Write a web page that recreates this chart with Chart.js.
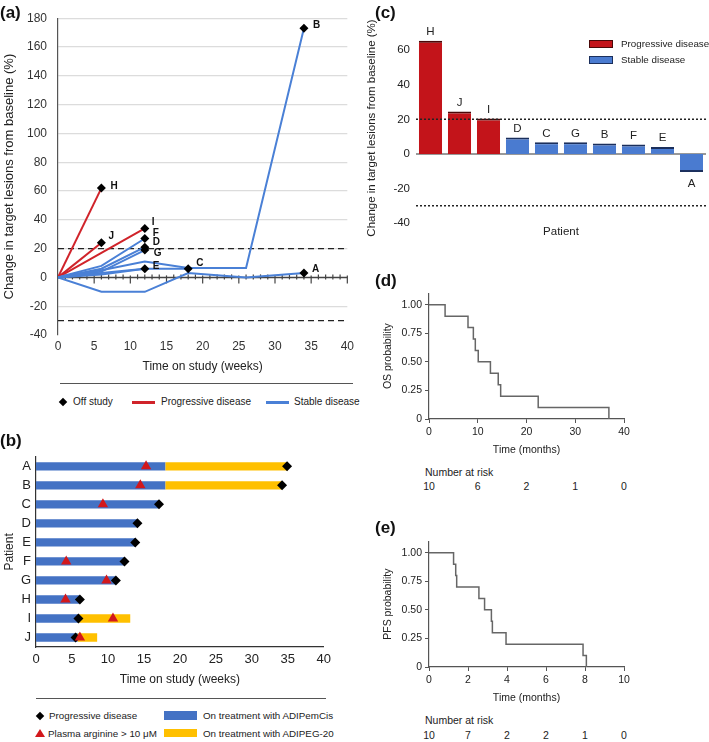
<!DOCTYPE html>
<html>
<head>
<meta charset="utf-8">
<script src="https://cdn.jsdelivr.net/npm/chart.js@4.4.0/dist/chart.umd.min.js"></script>
<style>
  body { margin: 0; width: 709px; height: 742px; position: relative; overflow: hidden; background: #fff;
         font-family: 'Liberation Sans', Arial, Helvetica, sans-serif; color: #222; }
  canvas { position: absolute; }
  .t { position: absolute; white-space: nowrap; transform: translateY(-50%); line-height: 1; color: #222; }
  .tag { position: absolute; font-weight: bold; font-size: 17px; line-height: 1; transform: translateY(-50%); color: #111; }
  .rule { position: absolute; height: 1px; background: #555; }
  .sw { position: absolute; }
  .dia { position: absolute; width: 6px; height: 6px; background: #000; transform: translate(-50%, -50%) rotate(45deg); }
  .tri { position: absolute; width: 0; height: 0; border-left: 5px solid transparent; border-right: 5px solid transparent;
         border-bottom: 8px solid #d2181c; transform: translate(-50%, -50%); }
</style>
</head>
<body>
<script>
// ---- (a) spider plot: weeks on study and % change per patient
const spiderNames = ['A', 'B', 'C', 'D', 'E', 'F', 'G', 'H', 'I', 'J'];
const spiderStatus = ['SD', 'SD', 'SD', 'SD', 'SD', 'SD', 'SD', 'PD', 'PD', 'PD'];
const weeksA = [0, 6, 12, 18, 26, 34],  changeA = [0, -10, -10, 3, 0, 3];
const weeksB = [0, 6, 12, 18, 26, 34],  changeB = [0, 5, 11, 6.5, 6.5, 173];
const weeksC = [0, 6, 12, 18],          changeC = [0, 3, 6, 6];
const weeksD = [0, 6, 12],              changeD = [0, 6, 21];
const weeksE = [0, 6, 12],              changeE = [0, 2, 6];
const weeksF = [0, 6, 12],              changeF = [0, 8, 27];
const weeksG = [0, 6, 12],              changeG = [0, 4, 19];
const weeksH = [0, 6],                  changeH = [0, 62];
const weeksI = [0, 6, 12],              changeI = [0, 17, 34];
const weeksJ = [0, 6],                  changeJ = [0, 24];
const spiderWeeks = [weeksA, weeksB, weeksC, weeksD, weeksE, weeksF, weeksG, weeksH, weeksI, weeksJ];
const spiderChange = [changeA, changeB, changeC, changeD, changeE, changeF, changeG, changeH, changeI, changeJ];
const spiderTicksX = [0, 5, 10, 15, 20, 25, 30, 35, 40];

// ---- (b) swimmer plot
const swimPatients = ['A', 'B', 'C', 'D', 'E', 'F', 'G', 'H', 'I', 'J'];
const pemEnd  = [18, 18, 17, 14.1, 13.8, 12.3, 11, 6, 6, 5.8];
const pegEnd  = [35, 34.1, null, null, null, null, null, null, 13.1, 8.5];
const pdWeek  = [34.9, 34.2, 17.1, 14.1, 13.8, 12.3, 11.1, 6.1, 5.9, 5.5];
const argWeek = [15.3, 14.5, 9.3, null, null, 4.2, 9.8, 4.1, 10.7, 6.1];

// ---- (c) waterfall, best change
const wfPatients = ['H', 'J', 'I', 'D', 'C', 'G', 'B', 'F', 'E', 'A'];
const wfChange = [65.5, 24.5, 20.5, 9.5, 6.8, 6.8, 6, 5.5, 4, -10.5];
const wfStatus = ['PD', 'PD', 'PD', 'SD', 'SD', 'SD', 'SD', 'SD', 'SD', 'SD'];

// ---- (d) OS and (e) PFS Kaplan-Meier
const osTime = [0, 3.3, 8.0, 9.1, 9.5, 10.1, 12.6, 14.2, 14.7, 22.4, 36.9];
const osProb = [1, 0.9, 0.8, 0.7, 0.6, 0.5, 0.4, 0.3, 0.2, 0.1, 0];
const osRiskAt = [0, 10, 20, 30, 40];
const osRisk = [10, 6, 2, 1, 0];
const pfsTime = [0, 1.26, 1.37, 1.42, 2.56, 2.85, 3.2, 3.25, 3.95, 7.9, 8.07];
const pfsProb = [1, 0.9, 0.8, 0.7, 0.6, 0.5, 0.4, 0.3, 0.2, 0.1, 0];
const pfsRiskAt = [0, 2, 4, 6, 8, 10];
const pfsRisk = [10, 7, 2, 2, 1, 0];
const kmTicksY = [0, 0.25, 0.5, 0.75, 1];

const RED = '#d0232a', BLUE = '#4a80d6';
const PEM = '#4472c4', PEG = '#ffc000';
const WF_RED = '#c3141a', WF_BLUE = '#4a7bd0';
const FONT = "'Liberation Sans', Arial, Helvetica, sans-serif";

Chart.defaults.font.family = FONT;
Chart.defaults.color = '#222';
Chart.defaults.animation = false;
Chart.defaults.plugins.legend.display = false;
Chart.defaults.plugins.tooltip.enabled = false;

function makeCanvas(left, top, w, h) {
    var c = document.createElement('canvas');
    c.width = w; c.height = h;
    c.style.left = left + 'px'; c.style.top = top + 'px';
    document.body.appendChild(c);
    return c;
}
function addText(txt, left, cy, size, extra) {
    var s = document.createElement('span');
    s.className = 't';
    s.textContent = txt;
    s.style.left = left + 'px'; s.style.top = cy + 'px'; s.style.fontSize = size + 'px';
    if (extra) s.style.cssText += extra;
    document.body.appendChild(s);
    return s;
}
function addEl(cls, css) {
    var d = document.createElement('div');
    d.className = cls; d.style.cssText = css;
    document.body.appendChild(d);
    return d;
}
function hLine(ctx, area, y, color, width, dash) {
    ctx.save();
    ctx.strokeStyle = color; ctx.lineWidth = width; ctx.setLineDash(dash || []);
    ctx.beginPath(); ctx.moveTo(area.left, y); ctx.lineTo(area.right, y); ctx.stroke();
    ctx.restore();
}

// ================= (a) =================
var labelNudge = { A: [8, -4], B: [9, -3], C: [8, -6], D: [8, -5], E: [8, -3], F: [8, -5], G: [9, 3], H: [9, -2], I: [7, -6], J: [7, -7] };
var spiderSets = spiderNames.map(function (p, i) {
    return {
        label: p, showLine: true, order: 2,
        data: spiderWeeks[i].map(function (w, k) { return { x: w, y: spiderChange[i][k] }; }),
        borderColor: spiderStatus[i] === 'PD' ? RED : BLUE,
        borderWidth: 2, pointRadius: 0
    };
});
spiderSets.push({
    label: 'Off study', order: 0,
    data: spiderNames.map(function (p, i) {
        var n = spiderWeeks[i].length - 1;
        return { x: spiderWeeks[i][n], y: spiderChange[i][n], name: p };
    }),
    pointStyle: 'rectRot', pointRadius: 4.5, backgroundColor: '#000', borderColor: '#000', borderWidth: 0
});

var spiderDecor = {
    id: 'spiderDecor',
    beforeDatasetsDraw: function (chart) {
        var ctx = chart.ctx, a = chart.chartArea, x = chart.scales.x, y = chart.scales.y;
        hLine(ctx, a, y.getPixelForValue(20), '#222', 1.3, [6, 4]);
        hLine(ctx, a, y.getPixelForValue(-30), '#222', 1.3, [6, 4]);
        var y0 = y.getPixelForValue(0);
        hLine(ctx, a, y0, '#444', 1.5);
        ctx.save();
        ctx.strokeStyle = '#444'; ctx.lineWidth = 1.2;
        for (var w = 1; w <= 40; w++) {
            var px = x.getPixelForValue(w);
            ctx.beginPath();
            if (w % 5 === 0) { ctx.moveTo(px, y0 - 2); ctx.lineTo(px, y0 + 6); }
            else { ctx.moveTo(px, y0 - 3); ctx.lineTo(px, y0 + 2); }
            ctx.stroke();
        }
        ctx.restore();
    },
    afterDatasetsDraw: function (chart) {
        var ctx = chart.ctx;
        var meta = chart.getDatasetMeta(chart.data.datasets.length - 1);
        var pts = chart.data.datasets[chart.data.datasets.length - 1].data;
        ctx.save();
        ctx.font = 'bold 10px ' + FONT;
        ctx.fillStyle = '#111';
        ctx.textBaseline = 'middle';
        meta.data.forEach(function (el, i) {
            var nm = pts[i].name, nd = labelNudge[nm];
            ctx.fillText(nm, el.x + nd[0], el.y + nd[1]);
        });
        ctx.restore();
    }
};

new Chart(makeCanvas(0, 0, 358, 374), {
    type: 'scatter',
    data: { datasets: spiderSets },
    options: {
        responsive: false,
        layout: { padding: { left: 1, top: 6, right: 10, bottom: 0 } },
        scales: {
            x: {
                type: 'linear', min: 0, max: 40,
                afterBuildTicks: function (s) { s.ticks = spiderTicksX.map(function (v) { return { value: v }; }); },
                afterFit: function (s) { s.height = 39; },
                grid: { display: false, drawTicks: false }, border: { display: false },
                ticks: { padding: 4, font: { size: 12 }, color: '#333' },
                title: { display: true, text: 'Time on study (weeks)', font: { size: 12 }, padding: 0, color: '#222' }
            },
            y: {
                min: -40, max: 180,
                afterFit: function (s) { s.width = 57; },
                grid: { drawTicks: false, color: function (c) { return (c.tick.value === -40 || c.tick.value === 0) ? 'rgba(0,0,0,0)' : '#dcdcdc'; }, lineWidth: 1.2 },
                border: { display: true, color: '#555', width: 1.2 },
                ticks: { stepSize: 20, padding: 11, font: { size: 12 }, color: '#333' },
                title: { display: true, text: 'Change in target lesions from baseline (%)', font: { size: 13 }, padding: 1, color: '#222' }
            }
        }
    },
    plugins: [spiderDecor]
});

// legend (a)
addEl('rule', 'left:60px;top:383px;width:293px;');
addEl('dia', 'left:63px;top:402px;');
addText('Off study', 73, 402, 10);
addEl('sw', 'left:132px;top:401px;width:23px;height:2.5px;background:' + RED + ';');
addText('Progressive disease', 161, 402, 10);
addEl('sw', 'left:266px;top:401px;width:23px;height:2.5px;background:' + BLUE + ';');
addText('Stable disease', 294, 402, 10);

// ================= (b) =================
var argPoints = [];
swimPatients.forEach(function (p, i) { if (argWeek[i] !== null) argPoints.push({ x: argWeek[i], y: p }); });

new Chart(makeCanvas(0, 444, 336, 243), {
    type: 'bar',
    data: {
        labels: swimPatients,
        datasets: [
            {
                label: 'Plasma arginine > 10 μM', type: 'scatter', order: 0,
                data: argPoints,
                pointStyle: 'triangle', pointRadius: 6, backgroundColor: '#d2181c', borderColor: '#d2181c', borderWidth: 0
            },
            {
                label: 'Progressive disease', type: 'scatter', order: 1,
                data: swimPatients.map(function (p, i) { return { x: pdWeek[i], y: p }; }),
                pointStyle: 'rectRot', pointRadius: 5, backgroundColor: '#000', borderColor: '#000', borderWidth: 0
            },
            {
                label: 'On treatment with ADIPemCis', order: 3,
                data: pemEnd.map(function (v) { return [0, v]; }),
                backgroundColor: PEM, barPercentage: 0.44, categoryPercentage: 1
            },
            {
                label: 'On treatment with ADIPEG-20', order: 2,
                data: pegEnd.map(function (v, i) { return v === null ? null : [pemEnd[i], v]; }),
                backgroundColor: PEG, barPercentage: 0.44, categoryPercentage: 1
            }
        ]
    },
    options: {
        responsive: false,
        indexAxis: 'y',
        layout: { padding: { left: 1, top: 11, right: 10, bottom: 0 } },
        scales: {
            x: {
                type: 'linear', min: 0, max: 40, stacked: false,
                afterFit: function (s) { s.height = 40; },
                grid: { display: false, drawTicks: false }, border: { display: true, color: '#333', width: 1.2 },
                ticks: { stepSize: 5, padding: 5, font: { size: 13 }, color: '#222' },
                title: { display: true, text: 'Time on study (weeks)', font: { size: 12 }, padding: 0 }
            },
            y: {
                type: 'category', labels: swimPatients, offset: true, stacked: true,
                afterFit: function (s) { s.width = 35; },
                grid: { display: false, drawTicks: false }, border: { display: true, color: '#333', width: 1.2 },
                ticks: { padding: 5, font: { size: 13 }, color: '#222' },
                title: { display: true, text: 'Patient', font: { size: 12 }, padding: 1 }
            }
        }
    }
});

// legend (b)
addEl('rule', 'left:36px;top:698px;width:290px;');
addEl('dia', 'left:40px;top:716px;');
addText('Progressive disease', 49, 716, 9.8);
addEl('tri', 'left:39.5px;top:733px;');
addText('Plasma arginine > 10 μM', 48, 733.5, 9.8);
addEl('sw', 'left:164px;top:711px;width:33px;height:8.5px;background:' + PEM + ';');
addText('On treatment with ADIPemCis', 203, 716, 9.8);
addEl('sw', 'left:164px;top:728.5px;width:33px;height:8.5px;background:' + PEG + ';');
addText('On treatment with ADIPEG-20', 203, 733.5, 9.8);

// ================= (c) =================
var wfDecor = {
    id: 'wfDecor',
    beforeDatasetsDraw: function (chart) {
        var ctx = chart.ctx, a = chart.chartArea, y = chart.scales.y;
        hLine(ctx, a, y.getPixelForValue(0), '#777', 1.5);
    },
    afterDatasetsDraw: function (chart) {
        var ctx = chart.ctx, a = chart.chartArea, y = chart.scales.y;
        hLine(ctx, a, y.getPixelForValue(20), '#222', 1.5, [2, 2]);
        hLine(ctx, a, y.getPixelForValue(-30), '#222', 1.5, [2, 2]);
        ctx.save();
        ctx.font = '11.5px ' + FONT;
        ctx.fillStyle = '#222';
        ctx.textAlign = 'center';
        chart.getDatasetMeta(0).data.forEach(function (el, i) {
            if (wfChange[i] >= 0) { ctx.textBaseline = 'bottom'; ctx.fillText(wfPatients[i], el.x, el.y - 3); }
            else { ctx.textBaseline = 'top'; ctx.fillText(wfPatients[i], el.x, el.y + 6); }
        });
        ctx.restore();
    }
};

new Chart(makeCanvas(360, 0, 349, 239), {
    type: 'bar',
    data: {
        labels: wfPatients,
        datasets: [{
            label: 'Best change',
            data: wfChange,
            backgroundColor: wfStatus.map(function (s) { return s === 'PD' ? WF_RED : WF_BLUE; }),
            borderColor: wfStatus.map(function (s) { return s === 'PD' ? '#4a0808' : '#1b2f5c'; }),
            borderWidth: function (c) { return c.raw >= 0 ? { top: 2, left: 0, right: 0, bottom: 0 } : { bottom: 2, left: 0, right: 0, top: 0 }; },
            borderSkipped: false,
            barPercentage: 0.8, categoryPercentage: 1
        }]
    },
    options: {
        responsive: false,
        layout: { padding: { left: 5, top: 33, right: 3, bottom: 0 } },
        scales: {
            x: {
                afterFit: function (s) { s.height = 16; },
                grid: { display: false, drawTicks: false }, border: { display: false },
                ticks: { display: false },
                title: { display: true, text: 'Patient', font: { size: 11.5 }, padding: 0 }
            },
            y: {
                min: -40, max: 70,
                afterBuildTicks: function (s) { s.ticks = s.ticks.filter(function (t) { return t.value % 20 === 0; }); },
                afterFit: function (s) { s.width = 51; },
                grid: { display: false, drawTicks: false }, border: { display: false },
                ticks: { stepSize: 20, padding: 6, font: { size: 11.5 }, color: '#222' },
                title: { display: true, text: 'Change in target lesions from baseline (%)', font: { size: 11.5 }, padding: 0 }
            }
        }
    },
    plugins: [wfDecor]
});

// legend (c)
addEl('sw', 'left:589px;top:40px;width:24px;height:8px;box-sizing:border-box;border:1px solid #4a0808;background:' + WF_RED + ';');
addText('Progressive disease', 621, 44, 9.8);
addEl('sw', 'left:589px;top:55.5px;width:24px;height:8px;box-sizing:border-box;border:1px solid #1b2f5c;background:' + WF_BLUE + ';');
addText('Stable disease', 621, 59.5, 9.8);

// ================= (d) / (e) =================
function kmChart(left, top, times, probs, xMax, xStep, title, yTitle, riskAt, risk, riskTitleY, riskY) {
    var chart = new Chart(makeCanvas(left, top, 274, 172), {
        type: 'line',
        data: {
            datasets: [{
                label: yTitle,
                data: times.map(function (t, i) { return { x: t, y: probs[i] }; }),
                stepped: true, borderColor: '#666', borderWidth: 1.5, pointRadius: 0, fill: false
            }]
        },
        options: {
            responsive: false,
            layout: { padding: { left: 22, top: 6, right: 10, bottom: 0 } },
            scales: {
                x: {
                    type: 'linear', min: 0, max: xMax,
                    afterFit: function (s) { s.height = 37; },
                    grid: { drawOnChartArea: false, drawTicks: true, tickLength: 4, color: '#555' },
                    border: { display: true, color: '#555', width: 1.2 },
                    ticks: { stepSize: xStep, padding: 3, font: { size: 10.5 }, color: '#222' },
                    title: { display: true, text: title, font: { size: 10.5 }, padding: 0 }
                },
                y: {
                    min: 0, max: 1.1,
                    afterBuildTicks: function (s) { s.ticks = kmTicksY.map(function (v) { return { value: v }; }); },
                    afterFit: function (s) { s.width = 47; },
                    grid: { drawOnChartArea: false, drawTicks: true, tickLength: 4, color: '#555' },
                    border: { display: true, color: '#555', width: 1.2 },
                    ticks: {
                        padding: 3, font: { size: 10.5 }, color: '#222',
                        callback: function (v) { return v === 0 ? '0' : v.toFixed(2); }
                    },
                    title: { display: true, text: yTitle, font: { size: 10.5 }, padding: 0 }
                }
            }
        }
    });
    addText('Number at risk', 425, riskTitleY, 10.5);
    var xs = chart.scales.x;
    riskAt.forEach(function (t, i) {
        var s = addText(String(risk[i]), left + xs.getPixelForValue(t), riskY, 10.5);
        s.style.transform = 'translate(-50%, -50%)';
    });
    return chart;
}
kmChart(360, 284, osTime, osProb, 40, 10, 'Time (months)', 'OS probability', osRiskAt, osRisk, 472, 486);
kmChart(360, 532, pfsTime, pfsProb, 10, 2, 'Time (months)', 'PFS probability', pfsRiskAt, pfsRisk, 720, 735);

// panel tags
[['(a)', 0, 12], ['(b)', 0, 440], ['(c)', 375, 12], ['(d)', 375, 280], ['(e)', 375, 527]].forEach(function (t) {
    var s = document.createElement('span');
    s.className = 'tag'; s.textContent = t[0];
    s.style.left = t[1] + 'px'; s.style.top = t[2] + 'px';
    document.body.appendChild(s);
});
</script>
</body>
</html>
